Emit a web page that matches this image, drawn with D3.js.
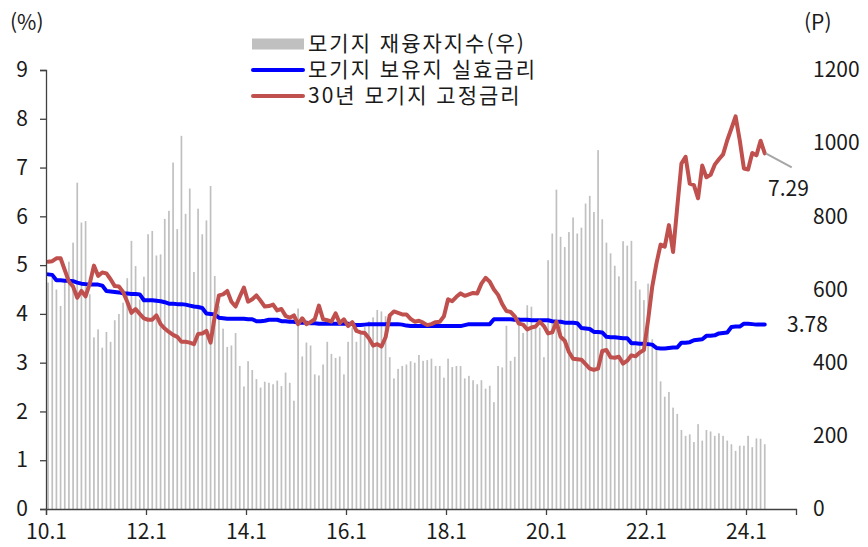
<!DOCTYPE html>
<html lang="ko">
<head>
<meta charset="utf-8">
<script src="https://cdn.jsdelivr.net/npm/d3@7/dist/d3.min.js"></script>
<style>
    body { margin: 0; background: #fff; }
    svg text { font-family: "Noto Sans CJK KR", "Noto Sans", sans-serif; fill: #1a1a1a; }
</style>
</head>
<body>
<svg id="chart" width="868" height="547"></svg>
<script>
"use strict";

// monthly, 2010.1 ~ 2024.5
const xTickLabels = ["10.1", "12.1", "14.1", "16.1", "18.1", "20.1", "22.1", "24.1"];
const leftTicks = [0, 1, 2, 3, 4, 5, 6, 7, 8, 9];
const rightTicks = [0, 200, 400, 600, 800, 1000, 1200];
const seriesNames = ["모기지 재융자지수(우)", "모기지 보유지 실효금리", "30년 모기지 고정금리"];

// 모기지 재융자지수 (P, right axis)
const refiIndex = [
    619, 633, 600, 555, 627, 676, 728, 892, 783, 787, 587, 469,
    491, 441, 484, 457, 516, 533, 564, 631, 733, 664, 573, 635,
    751, 760, 693, 696, 793, 815, 947, 765, 1020, 807, 876, 648,
    821, 751, 789, 883, 637, 555, 493, 443, 447, 481, 391, 335,
    404, 380, 355, 332, 348, 345, 341, 351, 336, 373, 345, 296,
    548, 417, 455, 447, 368, 365, 395, 457, 424, 413, 417, 368,
    457, 496, 457, 481, 497, 513, 524, 544, 540, 527, 415, 357,
    383, 391, 395, 404, 400, 421, 405, 407, 411, 391, 391, 359,
    411, 388, 391, 391, 357, 364, 352, 341, 352, 329, 337, 292,
    391, 387, 501, 405, 416, 525, 481, 557, 553, 496, 496, 415,
    680, 753, 873, 744, 716, 757, 797, 753, 769, 835, 856, 812,
    981, 792, 728, 699, 665, 636, 732, 720, 733, 623, 600, 571,
    616, 464, 448, 349, 307, 320, 277, 260, 216, 200, 204, 183,
    232, 187, 216, 212, 200, 207, 200, 187, 177, 159, 173, 173,
    200, 169, 193, 192, 177
];

// 모기지 보유지 실효금리 (%)
const effectiveRate = [
    4.81, 4.80, 4.69, 4.69, 4.68, 4.68, 4.67, 4.64, 4.62, 4.61, 4.60, 4.60,
    4.60, 4.58, 4.47, 4.46, 4.45, 4.44, 4.42, 4.42, 4.41, 4.41, 4.40, 4.28,
    4.28, 4.28, 4.27, 4.26, 4.24, 4.21, 4.21, 4.20, 4.20, 4.19, 4.17, 4.15,
    4.14, 4.12, 4.01, 4.00, 3.99, 3.92, 3.91, 3.90, 3.90, 3.90, 3.90, 3.90,
    3.89, 3.89, 3.85, 3.85, 3.86, 3.88, 3.88, 3.88, 3.85, 3.85, 3.84, 3.84,
    3.82, 3.82, 3.82, 3.81, 3.81, 3.80, 3.80, 3.80, 3.80, 3.80, 3.80, 3.80,
    3.80, 3.79, 3.77, 3.77, 3.78, 3.79, 3.79, 3.79, 3.79, 3.79, 3.79, 3.79,
    3.79, 3.78, 3.76, 3.75, 3.75, 3.75, 3.75, 3.75, 3.75, 3.75, 3.75, 3.75,
    3.75, 3.75, 3.75, 3.75, 3.77, 3.79, 3.79, 3.79, 3.79, 3.79, 3.79, 3.89,
    3.89, 3.89, 3.89, 3.89, 3.88, 3.88, 3.88, 3.88, 3.87, 3.87, 3.87, 3.87,
    3.87, 3.85, 3.84, 3.84, 3.82, 3.82, 3.82, 3.81, 3.71, 3.70, 3.69, 3.63,
    3.63, 3.62, 3.53, 3.52, 3.52, 3.51, 3.50, 3.50, 3.40, 3.40, 3.39, 3.39,
    3.38, 3.37, 3.30, 3.29, 3.29, 3.30, 3.31, 3.31, 3.41, 3.41, 3.42, 3.46,
    3.47, 3.48, 3.55, 3.55, 3.56, 3.60, 3.61, 3.62, 3.73, 3.74, 3.74, 3.80,
    3.80, 3.79, 3.78, 3.78, 3.78
];

// 30년 모기지 고정금리 (%)
const fixedRate30 = [
    5.07, 5.08, 5.14, 5.14, 4.90, 4.66, 4.56, 4.33, 4.47, 4.36, 4.62, 4.99,
    4.78, 4.85, 4.83, 4.71, 4.57, 4.56, 4.45, 4.25, 4.02, 4.10, 4.00, 3.91,
    3.88, 3.88, 3.97, 3.79, 3.70, 3.63, 3.57, 3.53, 3.43, 3.43, 3.41, 3.38,
    3.59, 3.60, 3.65, 3.41, 3.95, 4.38, 4.40, 4.47, 4.25, 4.15, 4.35, 4.54,
    4.25, 4.30, 4.38, 4.27, 4.15, 4.16, 4.19, 4.07, 4.10, 3.96, 3.92, 3.97,
    3.79, 3.91, 3.79, 3.83, 3.89, 4.17, 3.89, 3.87, 3.84, 4.01, 3.81, 3.89,
    3.75, 3.83, 3.65, 3.62, 3.61, 3.50, 3.35, 3.38, 3.33, 3.52, 3.97, 4.05,
    4.02, 3.99, 3.99, 3.90, 3.84, 3.86, 3.82, 3.77, 3.79, 3.83, 3.84, 3.95,
    4.30, 4.26, 4.35, 4.42, 4.37, 4.40, 4.43, 4.42, 4.62, 4.74, 4.66, 4.50,
    4.39, 4.20, 4.06, 4.04, 3.95, 3.80, 3.78, 3.68, 3.72, 3.74, 3.84, 3.75,
    3.60, 3.62, 3.84, 3.53, 3.45, 3.22, 3.08, 3.07, 3.06, 2.97, 2.88, 2.85,
    2.88, 3.24, 3.26, 3.11, 3.10, 3.12, 2.98, 3.04, 3.15, 3.13, 3.21, 3.26,
    3.87, 4.56, 5.03, 5.42, 5.38, 5.82, 5.27, 6.19, 7.08, 7.22, 6.67, 6.64,
    6.37, 7.04, 6.80, 6.85, 7.06, 7.17, 7.27, 7.56, 7.80, 8.05, 7.56, 6.98,
    6.96, 7.30, 7.25, 7.55, 7.29
];

class MortgageChart {

    /**
     * @constructor
     * @param selector {string}
     */
    constructor(selector) {
        this.svg = d3.select(selector);
        this.left = 46;
        this.right = 796;
        this.top = 70;
        this.bottom = 509;
        this.monthsOnAxis = xTickLabels.length * 24 - 12;
    }

    build() {
        const svg = this.svg;
        const x = d3.scaleLinear()
            .domain([0, this.monthsOnAxis])
            .range([this.left, this.right]);
        const yLeft = d3.scaleLinear()
            .domain([0, 9])
            .range([this.bottom, this.top]);
        const yRight = d3.scaleLinear()
            .domain([0, 1200])
            .range([this.bottom, this.top]);
        const xc = i => x(i + 0.5);

        // bars
        svg.append("g")
            .selectAll("rect")
            .data(refiIndex)
            .join("rect")
            .attr("x", (d, i) => xc(i) - 0.85)
            .attr("width", 1.7)
            .attr("y", d => yRight(d))
            .attr("height", d => yRight(0) - yRight(d))
            .attr("fill", "#c0c0c0");

        const line = d3.line()
            .x((d, i) => xc(i))
            .y(d => yLeft(d));

        svg.append("path")
            .datum(effectiveRate)
            .attr("d", line)
            .attr("fill", "none")
            .attr("stroke", "#0000ff")
            .attr("stroke-width", 4)
            .attr("stroke-linejoin", "round")
            .attr("stroke-linecap", "round");

        svg.append("path")
            .datum(fixedRate30)
            .attr("d", line)
            .attr("fill", "none")
            .attr("stroke", "#c0504d")
            .attr("stroke-width", 4)
            .attr("stroke-linejoin", "round")
            .attr("stroke-linecap", "round");

        // axes
        const xAxis = d3.axisBottom(x)
            .tickValues(xTickLabels.map((d, k) => k * 24))
            .tickFormat((d, k) => xTickLabels[k])
            .tickSizeOuter(0)
            .tickSize(6)
            .tickPadding(9);
        const gx = svg.append("g")
            .attr("transform", `translate(0,${this.bottom})`)
            .call(xAxis);
        gx.selectAll("text").style("font-size", "21px");

        const leftAxis = d3.axisLeft(yLeft)
            .tickValues(leftTicks)
            .tickSizeOuter(0)
            .tickSize(6)
            .tickPadding(12);
        const gl = svg.append("g")
            .attr("transform", `translate(${this.left},0)`)
            .call(leftAxis);
        gl.selectAll("text").style("font-size", "21px");

        const rightAxis = d3.axisRight(yRight)
            .tickValues(rightTicks)
            .tickFormat(d3.format("d"))
            .tickSize(0)
            .tickPadding(17);
        const gr = svg.append("g")
            .attr("transform", `translate(${this.right},0)`)
            .call(rightAxis);
        gr.select(".domain").remove();
        gr.selectAll("text").style("font-size", "21px");

        svg.selectAll(".domain, .tick line").attr("stroke", "#404040").attr("stroke-width", 1.3);
        svg.selectAll(".tick text").style("fill", "#1a1a1a");

        // units
        svg.append("text").attr("x", 10).attr("y", 30).style("font-size", "21px").text("(%)");
        svg.append("text").attr("x", 804).attr("y", 30).style("font-size", "21px").text("(P)");

        // end labels
        const last = fixedRate30.length - 1;
        svg.append("line")
            .attr("x1", xc(last) + 1).attr("y1", yLeft(fixedRate30[last]))
            .attr("x2", xc(last) + 27).attr("y2", yLeft(fixedRate30[last]) + 14)
            .attr("stroke", "#a6a6a6").attr("stroke-width", 2);
        svg.append("text")
            .attr("x", 768).attr("y", yLeft(fixedRate30[last]) + 37)
            .attr("dominant-baseline", "middle")
            .style("font-size", "21px")
            .text(d3.format(".2f")(fixedRate30[last]));
        svg.append("text")
            .attr("x", 787).attr("y", yLeft(effectiveRate[last]) + 2)
            .attr("dominant-baseline", "middle")
            .style("font-size", "21px")
            .text(d3.format(".2f")(effectiveRate[last]));

        this.__legend();
    }

    __legend() {
        const g = this.svg.append("g").attr("transform", "translate(252,44)");
        const rowH = 26;
        seriesNames.forEach((name, k) => {
            const row = g.append("g").attr("transform", `translate(0,${k * rowH})`);
            if (k === 0) {
                row.append("rect").attr("x", 0).attr("y", -5.5).attr("width", 52).attr("height", 11).attr("fill", "#c0c0c0");
            } else {
                row.append("line").attr("x1", 1).attr("x2", 51)
                    .attr("stroke", k === 1 ? "#0000ff" : "#c0504d")
                    .attr("stroke-width", 4).attr("stroke-linecap", "round");
            }
            row.append("text")
                .attr("x", 56).attr("y", 1)
                .attr("dominant-baseline", "middle")
                .style("font-size", "21px")
                .style("letter-spacing", "2px")
                .text(name);
        });
    }
}

new MortgageChart("#chart").build();
</script>
</body>
</html>
